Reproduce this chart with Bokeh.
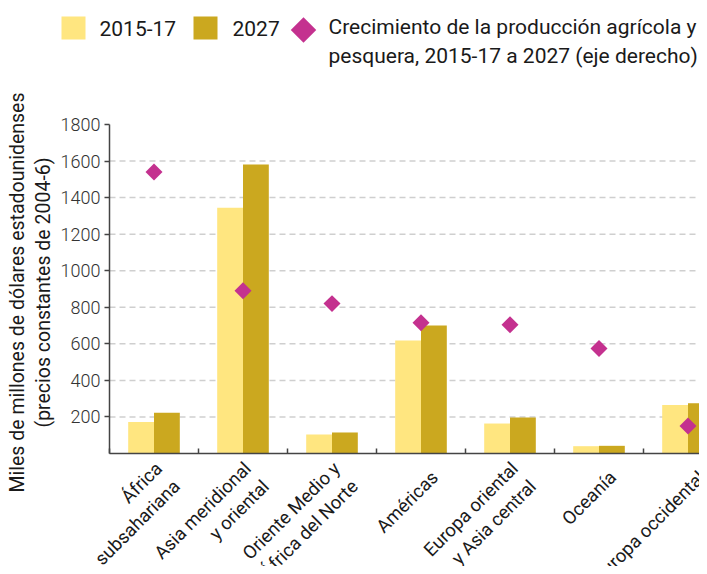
import numpy as np
from bokeh.plotting import figure
from bokeh.models import Range1d, FixedTicker
from bokeh.core.properties import value
from bokeh.embed import file_html
from bokeh.resources import INLINE

# ---------------- data ----------------
categories = [
    "África\nsubsahariana",
    "Asia meridional\ny oriental",
    "Oriente Medio y\nÁfrica del Norte",
    "Américas",
    "Europa oriental\ny Asia central",
    "Oceanía",
    "Europa occidental",
]
prod_2015_17 = [172, 1344, 104, 618, 164, 40, 266]
prod_2027 = [223, 1581, 115, 700, 197, 42, 275]
growth_pct = [30.8, 17.8, 16.4, 14.3, 14.1, 11.5, 3.0]   # right axis (not visible, 0-36 %)
y_ticks = [200, 400, 600, 800, 1000, 1200, 1400, 1600, 1800]
series_labels = [
    "2015-17",
    "2027",
    "Crecimiento de la producción agrícola y\npesquera, 2015-17 a 2027 (eje derecho)",
]
y_title = "Miles de millones de dólares estadounidenses\n(precios constantes de 2004-6)"

# ---------------- style / layout ----------------
C_LIGHT = "#FFE680"
C_DARK = "#CBA81F"
C_DIAM = "#C4318F"
C_AXIS = "#444444"
TXT = "#1a1a1a"
FONT = "Roboto"

W, H = 699, 566
AX_X, AX_Y0, AX_Y1 = 109, 453, 124      # pixel position of axes (x0, y=0, y=1800)
CAT_PX = 89.0
YMAX = 1800
GMAX = 36.0                              # right-axis maximum (aligned with YMAX)
PX_PER_Y = (AX_Y0 - AX_Y1) / YMAX


def X(px):
    return (px - AX_X) / CAT_PX


def Y(py):
    return (AX_Y0 - py) / PX_PER_Y


y0, y1 = Y(H), Y(0)
p = figure(width=W, height=H, output_backend="svg", toolbar_location=None,
           x_range=Range1d(X(0), X(W)), y_range=Range1d(y0, y1),
           min_border=0, outline_line_color=None,
           background_fill_color="white", border_fill_color="white")
p.extra_y_ranges = {"growth": Range1d(y0 * GMAX / YMAX, y1 * GMAX / YMAX)}
p.xgrid.visible = False
p.ygrid.visible = False

ncat = len(categories)
centers = np.arange(ncat) + 0.5

# dashed horizontal grid lines (only across the plotting area)
grid_vals = y_ticks[:-1]
p.segment(x0=[0] * len(grid_vals), x1=[ncat] * len(grid_vals), y0=grid_vals, y1=grid_vals,
          line_color="#cfcfcf", line_width=1.5, line_dash="6 4")

bw = 0.29
p.vbar(x=centers - bw / 2, top=prod_2015_17, width=bw, bottom=0,
       fill_color=C_LIGHT, line_color=None)
p.vbar(x=centers + bw / 2, top=prod_2027, width=bw, bottom=0,
       fill_color=C_DARK, line_color=None)
p.scatter(x=centers, y=growth_pct, y_range_name="growth", marker="square",
          angle=np.pi / 4, size=12, fill_color=C_DIAM, line_color=None)

# y axis
ya = p.yaxis[0]
ya.fixed_location = 0
ya.bounds = (0, YMAX)
ya.ticker = FixedTicker(ticks=y_ticks)
ya.axis_line_color = C_AXIS
ya.axis_line_width = 1.5
ya.major_tick_line_color = C_AXIS
ya.major_tick_line_width = 1.5
ya.major_tick_out = 5
ya.major_tick_in = 0
ya.minor_tick_line_color = None
ya.major_label_text_font = "Roboto Light"
ya.major_label_text_font_size = "18px"
ya.major_label_text_color = "#333333"
ya.major_label_standoff = 4

# x axis: ticks between categories, pointing inward
xa = p.xaxis[0]
xa.fixed_location = 0
xa.bounds = (0, ncat)
xa.ticker = FixedTicker(ticks=list(range(ncat + 1)))
xa.axis_line_color = C_AXIS
xa.axis_line_width = 1.5
xa.major_tick_line_color = C_AXIS
xa.major_tick_line_width = 1.5
xa.major_tick_in = 5
xa.major_tick_out = 0
xa.minor_tick_line_color = None
xa.major_label_overrides = {i: "" for i in range(ncat + 1)}

# category labels (rotated)
p.text(x=centers, y=[0] * ncat, text=categories, angle=np.pi / 4,
       x_offset=14, y_offset=21, text_align="right", text_baseline="middle",
       text_font=value(FONT), text_font_size="18.5px", text_color=TXT,
       text_line_height=1.15)

# y-axis title
p.text(x=[X(30)], y=[Y(292)], text=[y_title], angle=np.pi / 2,
       text_align="center", text_baseline="middle",
       text_font=value(FONT), text_font_size="19.5px", text_color=TXT,
       text_line_height=1.1)

# ---------------- legend ----------------
p.quad(left=[X(61), X(193)], right=[X(85), X(217)], top=[Y(16), Y(16)],
       bottom=[Y(39), Y(39)], fill_color=[C_LIGHT, C_DARK], line_color=None)
p.scatter(x=[X(303)], y=[Y(29.5)], marker="square", angle=np.pi / 4, size=18,
          fill_color=C_DIAM, line_color=None)
p.text(x=[X(99), X(232), X(328)], y=[Y(28), Y(28), Y(41)], text=series_labels,
       text_align="left", text_baseline="middle", text_font=value(FONT),
       text_font_size="21px", text_color=TXT, text_line_height=1.22)

open("out.html", "w").write(file_html(p, INLINE))
